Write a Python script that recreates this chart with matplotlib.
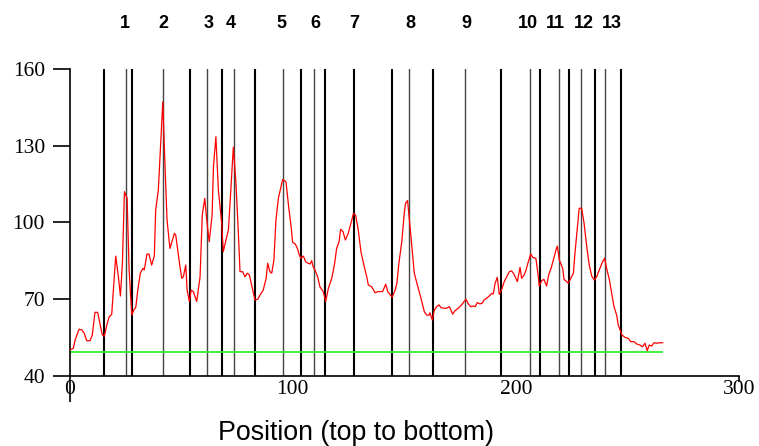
import matplotlib
matplotlib.use("Agg")
import matplotlib.pyplot as plt

# profile (position, intensity)
pos = [0.2, 1.7, 2.5, 4.3, 5.5, 6.6, 7.7, 9.2, 10.2, 11.4, 12.6, 14.7, 15.6, 16.7, 17.8, 18.9,
       20.7, 21.9, 22.8, 23.7, 24.6, 25.8, 26.7, 27.9, 28.8, 29.7, 30.6, 31.7, 32.9, 33.5, 34.7,
       35.6, 36.8, 38.0, 38.6, 39.8, 41.8, 42.8, 43.7, 45.0, 47.0, 47.6, 49.5, 50.3, 51.0, 52.1,
       52.7, 53.7, 54.5, 55.5, 57.0, 58.5, 59.5, 60.6, 61.5, 62.6, 63.9, 64.5, 65.6, 66.7, 68.2,
       68.9, 70.1, 71.2, 72.2, 73.4, 74.5, 75.6, 76.4, 77.6, 78.6, 79.7, 80.6, 81.6, 83.1, 84.3,
       85.4, 86.8, 88.1, 88.8, 89.8, 90.6, 91.6, 92.5, 93.6, 94.6, 95.5, 97.0, 98.2, 99.3, 100.0,
       101.2, 102.1, 103.0, 103.7, 104.8, 105.8, 106.9, 107.8, 108.5, 109.2, 110.0, 111.2, 112.2,
       113.7, 114.8, 116.0, 117.5, 118.7, 119.7, 120.8, 121.5, 122.6, 123.6, 124.9, 126.5, 127.2,
       128.2, 129.4, 130.6, 132.1, 133.2, 133.9, 135.4, 136.9, 138.4, 140.3, 141.7, 142.6, 144.6,
       145.9, 146.7, 147.6, 148.9, 150.0, 150.6, 151.5, 152.6, 153.6, 154.5, 156.0, 157.5, 159.0,
       160.1, 161.1, 161.5, 162.6, 163.5, 164.5, 165.6, 166.5, 168.0, 169.0, 170.2, 171.7, 172.7,
       174.2, 175.7, 176.8, 177.7, 178.7, 179.8, 180.9, 181.8, 182.7, 183.9, 184.8, 185.7, 186.9,
       188.1, 189.2, 189.9, 190.7, 191.7, 192.6, 193.7, 194.8, 195.9, 197.1, 198.1, 199.2, 200.7,
       201.9, 202.6, 203.7, 204.6, 205.6, 206.7, 207.6, 209.0, 209.9, 210.5, 211.6, 212.6, 213.8,
       214.7, 215.8, 216.8, 218.0, 218.6, 219.5, 221.0, 221.6, 222.8, 223.5, 224.6, 225.8, 226.5,
       227.5, 228.4, 229.5, 230.6, 231.7, 232.9, 234.0, 235.2, 236.2, 237.4, 238.6, 239.8, 240.7,
       241.9, 243.0, 244.0, 245.2, 245.9, 246.7, 247.6, 248.9, 250.4, 251.5, 253.0, 254.2, 255.6,
       256.8, 257.9, 258.9, 259.8, 260.9, 261.9, 263.1, 264.6, 265.8]
signal = [50.1, 50.7, 54.0, 58.2, 57.9, 56.6, 53.7, 53.7, 55.9, 64.8, 64.8, 55.9, 55.5, 59.8, 63.1, 64.0,
          86.8, 78.7, 71.2, 84.0, 112.0, 109.4, 81.4, 63.7, 65.7, 66.8, 73.5, 80.1, 82.0, 81.4, 87.6,
          87.6, 83.3, 86.8, 104.8, 112.7, 147.2, 121.8, 100.9, 89.8, 95.7, 95.0, 82.6, 78.1, 78.7, 83.3,
          73.5, 69.0, 73.5, 72.9, 69.0, 78.7, 102.9, 109.4, 100.9, 92.4, 102.9, 121.8, 133.5, 112.7, 99.6,
          88.5, 93.1, 97.0, 111.4, 129.4, 116.6, 97.0, 80.7, 80.7, 78.7, 80.1, 79.4, 75.5, 69.6, 69.9,
          71.6, 73.5, 78.1, 84.0, 80.7, 80.1, 85.3, 100.9, 109.4, 113.3, 116.8, 115.9, 106.1, 98.3, 92.2,
          91.5, 89.8, 87.2, 85.9, 86.8, 84.6, 84.0, 83.7, 85.0, 82.6, 81.4, 78.7, 74.8,
          72.9, 69.0, 74.2, 78.1, 83.3, 89.8, 92.4, 97.3, 96.3, 93.1, 95.7, 100.9, 103.5,
          102.9, 97.0, 88.5, 82.6, 78.7, 75.5, 74.8, 72.5, 72.9, 72.9, 75.8, 72.9, 70.7,
          73.5, 76.1, 84.0, 92.4, 103.5, 107.5, 108.5, 98.3, 88.5, 80.1, 75.1, 70.3, 65.0,
          63.7, 63.7, 64.6, 61.8, 65.7, 67.0, 67.7, 66.6, 66.4, 66.4, 67.0, 64.1, 65.4,
          66.4, 67.7, 69.0, 69.9, 68.1, 67.0, 67.3, 67.0, 68.6, 68.1, 68.3, 69.6, 70.3,
          71.2, 72.2, 72.0, 76.1, 78.5, 71.8, 73.8, 76.8, 78.7, 80.7, 81.0, 79.7, 76.8,
          82.4, 78.1, 79.4, 81.4, 84.6, 87.6, 86.3, 85.9, 80.1, 75.1, 77.2, 77.7, 75.1,
          79.4, 82.0, 85.3, 89.2, 90.7, 85.3, 82.0, 77.7, 76.8, 76.2, 78.1, 80.1, 87.9,
          97.0, 105.5, 105.5, 99.6, 91.1, 83.3, 79.0, 77.4, 78.7, 81.4, 84.0, 86.0, 82.0,
          77.7, 72.2, 67.0, 63.7, 59.8, 57.9, 55.9, 55.0, 54.6, 53.3, 53.3, 52.4, 52.0,
          51.3, 52.7, 49.8, 52.0, 51.6, 52.9, 52.7, 52.9, 52.9]

background = 49.4

boundaries = [15.5, 28.0, 54.0, 68.3, 83.1, 103.9, 114.6, 127.5, 144.5, 162.9, 193.2,
              210.8, 223.7, 235.5, 247.0]
peaks = [25.4, 41.8, 61.6, 73.6, 95.7, 109.4, 152.0, 177.4, 206.3, 219.3, 229.2, 240.0]

band_names = [str(i) for i in range(1, 14)]
band_pos = [24.7, 42.0, 62.4, 72.4, 95.1, 110.0, 127.6, 152.6, 177.8, 205.6, 217.9, 230.5, 243.2]

fig = plt.figure(figsize=(7.59, 4.46), dpi=100)
ax = fig.add_axes([0.0916, 0.1576, 0.882, 0.6877])

for b in boundaries:
    ax.axvline(b, color="black", lw=1.5, zorder=1)
for p in peaks:
    ax.axvline(p, color="#444444", lw=1.0, zorder=1)

ax.hlines(background, 0, pos[-1], color="#33ee33", lw=1.3, zorder=2)
ax.plot(pos, signal, color="red", lw=0.9, zorder=3)

for name, x in zip(band_names, band_pos):
    ax.text(x, 1.147, name, transform=ax.get_xaxis_transform(), ha="center", va="center",
            fontsize=13, fontweight="bold", family="Liberation Sans")

ax.set_xlim(0, 300)
ax.set_ylim(40, 160)
ax.set_xticks([0, 100, 200, 300])
ax.set_yticks([40, 70, 100, 130, 160])
for s in ["top", "right"]:
    ax.spines[s].set_visible(False)
for s in ["left", "bottom"]:
    ax.spines[s].set_linewidth(1.2)

ax.tick_params(axis="y", direction="out", length=12.2, width=1.2, pad=5.5)
ax.tick_params(axis="x", direction="out", length=0, width=1.2, pad=3)
xt = ax.xaxis.get_major_ticks()
xt[0].tick1line.set_markersize(18.7)
xt[-1].tick1line.set_markersize(4.3)
for lab in ax.get_xticklabels() + ax.get_yticklabels():
    lab.set_family("Liberation Serif")
    lab.set_fontsize(15.5)

fig.text(355.7 / 759, 1 - 433 / 446, "Position (top to bottom)", ha="center", va="center",
         fontsize=19.3, family="Liberation Sans")

fig.savefig("out.png", dpi=100)
